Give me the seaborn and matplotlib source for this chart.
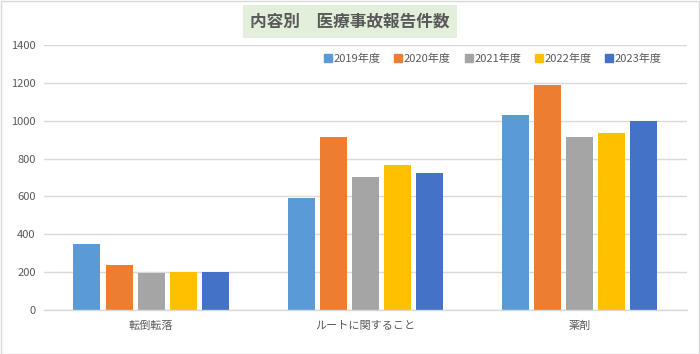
import matplotlib
matplotlib.use("Agg")
import matplotlib.pyplot as plt
import seaborn as sns
import pandas as pd
from matplotlib.lines import Line2D

categories = ["転倒転落", "ルートに関すること", "薬剤"]
years = ["2019年度", "2020年度", "2021年度", "2022年度", "2023年度"]
values = {
    "2019年度": [350, 592, 1029],
    "2020年度": [239, 914, 1189],
    "2021年度": [195, 701, 912],
    "2022年度": [203, 767, 937],
    "2023年度": [200, 725, 1000],
}
colors = ["#5B9BD5", "#ED7D31", "#A5A5A5", "#FFC000", "#4472C4"]
yticks = [0, 200, 400, 600, 800, 1000, 1200, 1400]
title = "内容別　医療事故報告件数"

rows = []
for y in years:
    for c, v in zip(categories, values[y]):
        rows.append({"category": c, "year": y, "count": v})
df = pd.DataFrame(rows)

sns.set_theme(style="white")
plt.rcParams["font.family"] = ["Noto Sans CJK JP", "DejaVu Sans"]

fig = plt.figure(figsize=(7.0, 3.54), dpi=100)
ax = fig.add_axes([0.063, 0.1243, 0.918, 0.7486])

sns.barplot(data=df, x="category", y="count", hue="year", hue_order=years,
            order=categories, palette=colors, width=0.75, gap=0.16,
            saturation=1, ax=ax, legend=False, errorbar=None, linewidth=0)

ax.set_ylim(0, 1400)
ax.set_xlim(-0.5, 2.5)
ax.set_yticks(yticks)
ax.set_yticklabels([str(t) for t in yticks])
ax.yaxis.grid(True, color="#D9D9D9", linewidth=1)
ax.set_axisbelow(True)
for s in ["top", "right", "left"]:
    ax.spines[s].set_visible(False)
ax.spines["bottom"].set_color("#D9D9D9")
ax.spines["bottom"].set_linewidth(1)
ax.set_xlabel("")
ax.set_ylabel("")
ax.tick_params(axis="both", length=0, labelsize=8, labelcolor="#595959")
ax.tick_params(axis="y", pad=6)
ax.tick_params(axis="x", pad=8)

handles = [Line2D([0], [0], marker="s", linestyle="", markersize=5.5,
                  markerfacecolor=c, markeredgecolor=c) for c in colors]
fig.legend(handles, years, loc="center", bbox_to_anchor=(0.704, 0.835),
           ncol=5, frameon=False, fontsize=8, labelcolor="#595959",
           handletextpad=0.1, columnspacing=1.2, handlelength=0.8)

fig.text(0.5, 0.938, title, ha="center", va="center", fontsize=12,
         fontweight="bold", color="#595959",
         bbox=dict(boxstyle="square,pad=0.45", facecolor="#E2EFDA",
                   edgecolor="none"))

border = plt.Rectangle((0.001, 0.001), 0.997, 0.996, transform=fig.transFigure,
                       fill=False, edgecolor="#D9D9D9", linewidth=1)
fig.patches.append(border)

fig.savefig("out.png", dpi=100)
